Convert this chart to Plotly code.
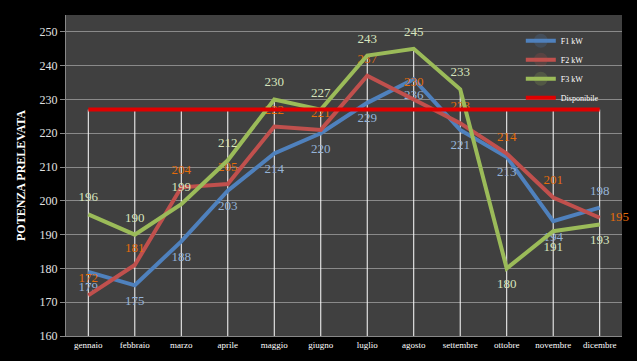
import plotly.graph_objects as go

months = ["gennaio", "febbraio", "marzo", "aprile", "maggio", "giugno",
          "luglio", "agosto", "settembre", "ottobre", "novembre", "dicembre"]
f1 = [179, 175, 188, 203, 214, 220, 229, 236, 221, 213, 194, 198]
f2 = [172, 181, 204, 205, 222, 221, 237, 230, 223, 214, 201, 195]
f3 = [196, 190, 199, 212, 230, 227, 243, 245, 233, 180, 191, 193]
disp = [227] * 12
y_ticks = [160, 170, 180, 190, 200, 210, 220, 230, 240, 250]

f1_pos = ["bottom center"] * 11 + ["top center"]
f2_pos = ["top center"] * 11 + ["middle right"]
f3_pos = ["top center"] * 9 + ["bottom center"] * 3

FONT = "Liberation Serif, Times New Roman, serif"

fig = go.Figure()

# drop lines from highest value to axis
dx, dy = [], []
for i, m in enumerate(months):
    top = max(f1[i], f2[i], f3[i], disp[i])
    dx += [m, m, None]
    dy += [top, y_ticks[0], None]
fig.add_trace(go.Scatter(x=dx, y=dy, mode="lines", line=dict(color="white", width=1),
                         showlegend=False, hoverinfo="skip"))

def series(name, vals, color, tcolor, pos):
    fig.add_trace(go.Scatter(
        x=months, y=vals, name=name, mode="lines+markers+text",
        line=dict(color=color, width=4),
        marker=dict(size=14, opacity=0, color=color),
        text=[str(v) for v in vals], textposition=pos, cliponaxis=False,
        textfont=dict(family=FONT, size=13, color=tcolor),
    ))

series("F1 kW", f1, "#4F81BD", "#95B3D7", f1_pos)
series("F2 kW", f2, "#C0504D", "#E46C0A", f2_pos)
series("F3 kW", f3, "#9BBB59", "#D7E4BD", f3_pos)

fig.add_trace(go.Scatter(x=months, y=disp, name="Disponibile", mode="lines",
                         line=dict(color="#E00000", width=4)))

fig.update_layout(
    width=637, height=361,
    paper_bgcolor="black", plot_bgcolor="#404040",
    margin=dict(l=66, r=15, t=15, b=25),
    showlegend=True,
    legend=dict(x=0.818, y=0.965, xanchor="left", yanchor="top",
                bgcolor="rgba(0,0,0,0)", font=dict(family=FONT, size=8, color="white"),
                tracegroupgap=0, itemwidth=30),
    xaxis=dict(range=[-0.48, 11.48], showgrid=False, showline=True, linecolor="#888888",
               linewidth=1, ticks="", tickfont=dict(family=FONT, size=9, color="white"),
               zeroline=False, fixedrange=True),
    yaxis=dict(range=[160, 255], tickvals=y_ticks, showgrid=True, gridcolor="#8a8a8a",
               gridwidth=1, showline=True, linecolor="#888888", ticks="outside",
               tickcolor="#888888", ticklen=5, zeroline=False,
               tickfont=dict(family=FONT, size=12, color="#e0e0e0"),
               title=dict(text="<b>POTENZA PRELEVATA</b>", font=dict(family=FONT, size=12, color="white"),
                          standoff=11)),
)

fig.write_html("out.html", config={"displayModeBar": False},
               post_script="document.body.style.margin='0';document.body.style.background='black';")
